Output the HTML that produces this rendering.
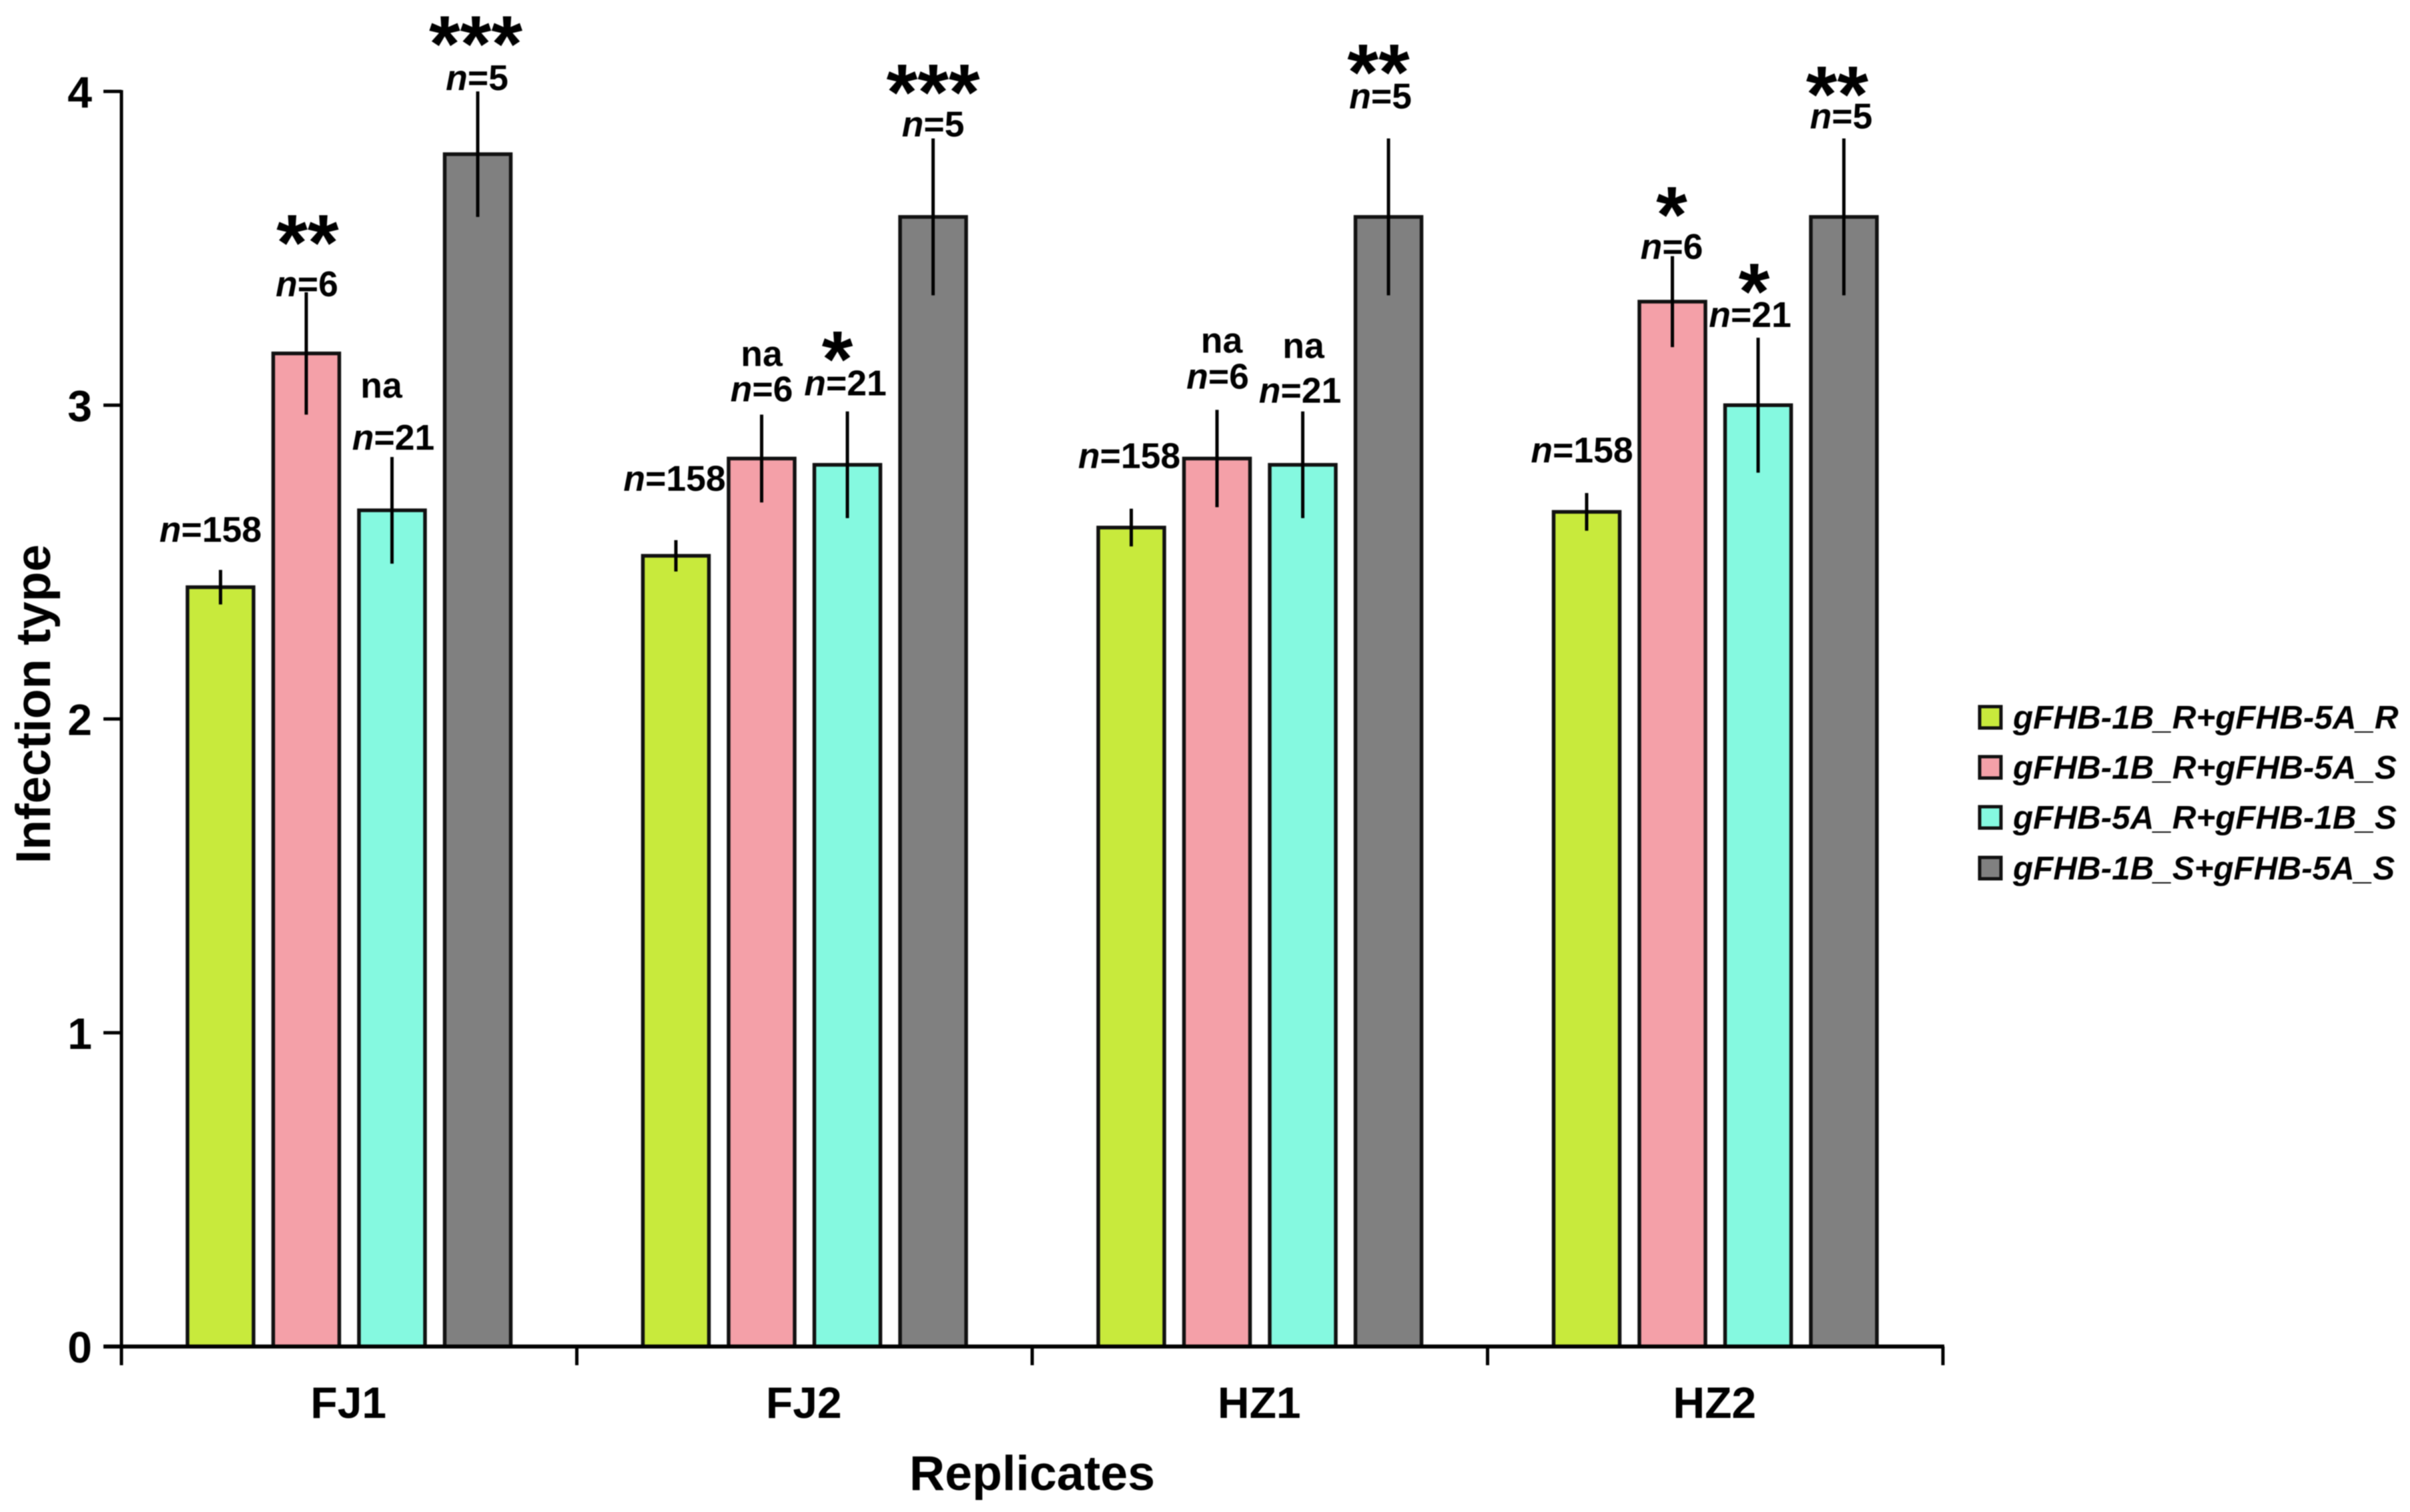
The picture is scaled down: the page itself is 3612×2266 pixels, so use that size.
<!DOCTYPE html>
<html>
<head>
<meta charset="utf-8">
<title>Infection type by replicate</title>
<style>
html,body{margin:0;padding:0;background:#fff;}
svg{display:block;}
text{font-family:"Liberation Sans",sans-serif;font-weight:bold;fill:#000;}
</style>
</head>
<body>
<svg id="chart" xmlns="http://www.w3.org/2000/svg" width="3612" height="2266" viewBox="0 0 3612 2266">
  <rect x="0" y="0" width="3612" height="2266" fill="#fff"/>
  <g id="marks" style="filter:blur(0.9px)"></g>
  <g style="filter:blur(0.9px)">
    <g>
      <rect x="2967" y="1059" width="32" height="32" fill="#C8EA3C" stroke="#111" stroke-width="5"/>
      <text x="3017" y="1092" font-size="49.4" font-style="italic">gFHB-1B_R+gFHB-5A_R</text>
    </g>
    <g>
      <rect x="2967" y="1134" width="32" height="32" fill="#F4A0A8" stroke="#111" stroke-width="5"/>
      <text x="3017" y="1167" font-size="49.4" font-style="italic">gFHB-1B_R+gFHB-5A_S</text>
    </g>
    <g>
      <rect x="2967" y="1209" width="32" height="32" fill="#85F9E0" stroke="#111" stroke-width="5"/>
      <text x="3017" y="1242" font-size="49.4" font-style="italic">gFHB-5A_R+gFHB-1B_S</text>
    </g>
    <g>
      <rect x="2967" y="1285" width="32" height="32" fill="#808080" stroke="#111" stroke-width="5"/>
      <text x="3017" y="1318" font-size="49.4" font-style="italic">gFHB-1B_S+gFHB-5A_S</text>
    </g>
  </g>
  <text transform="translate(75,1055) rotate(-90)" text-anchor="middle" style="font-size:73.6px;filter:blur(0.9px)">Infection type</text>
  <text x="1547" y="2233" text-anchor="middle" style="font-size:73.6px;filter:blur(0.9px)">Replicates</text>
</svg>
<script>
// Chart data
const categories = ["FJ1", "FJ2", "HZ1", "HZ2"];
const seriesNames = ["r-r", "r-s", "5a-r", "s-s"];
const seriesRR = [2.42, 2.52, 2.61, 2.66];
const seriesRS = [3.165, 2.83, 2.83, 3.33];
const series5AR = [2.665, 2.81, 2.81, 3.00];
const seriesSS = [3.80, 3.60, 3.60, 3.60];
const errorRR = [0.055, 0.05, 0.06, 0.06];
const errorRS = [0.195, 0.14, 0.155, 0.145];
const error5AR = [0.17, 0.17, 0.17, 0.215];
const errorSS = [0.20, 0.25, 0.25, 0.25];
const countRR = [158, 158, 158, 158];
const countRS = [6, 6, 6, 6];
const count5AR = [21, 21, 21, 21];
const countSS = [5, 5, 5, 5];
const significanceRR = ["", "", "", ""];
const significanceRS = ["**", "na", "na", "*"];
const significance5AR = ["na", "*", "na", "*"];
const significanceSS = ["***", "***", "**", "**"];
const yTicks = [0, 1, 2, 3, 4];

const SVGNS = "http://www.w3.org/2000/svg";
const marks = document.getElementById("marks");
const plotLeft = 182, plotRight = 2912, y0 = 2018, pxPerUnit = 470.25;
const groupWidth = (plotRight - plotLeft) / categories.length;
const barPitch = 128.5, barWidth = 99;
const seriesValues = [seriesRR, seriesRS, series5AR, seriesSS];
const seriesErrors = [errorRR, errorRS, error5AR, errorSS];
const seriesCounts = [countRR, countRS, count5AR, countSS];
const seriesSig = [significanceRR, significanceRS, significance5AR, significanceSS];
const fills = ["#C8EA3C", "#F4A0A8", "#85F9E0", "#808080"];

function yScale(v) { return y0 - v * pxPerUnit; }
function xBand(g, s) { return plotLeft + groupWidth * g + groupWidth / 2 + (s - 1.5) * barPitch; }
function make(tag, attrs, parent) {
  const el = document.createElementNS(SVGNS, tag);
  for (const k in attrs) el.setAttribute(k, attrs[k]);
  (parent || marks).appendChild(el);
  return el;
}

// Annotation nudges (layout only): label offset from the top of its error bar
const countNudge = [
  [[-15,-42],[1,6],[2,-11],[-1,-2]],
  [[-2,-74],[0,-20],[-3,-24],[0,-3]],
  [[-3,-61],[1,-32],[-4,-13],[-12,-45]],
  [[-7,-46],[-1,4],[-12,-16],[-4,-15]]
];
const sigNudge = [
  [[0,0],[2,-33],[-16,-89],[-3,-30]],
  [[0,0],[0,-73],[-15,-37],[0,-28]],
  [[0,0],[7,-86],[1,-80],[-15,-58]],
  [[0,0],[-1,-21],[-6,-28],[-10,-25]]
];

// Bars
categories.forEach(function (cat, g) {
  seriesValues.forEach(function (vals, s) {
    const cx = xBand(g, s);
    const top = yScale(vals[g]);
    const bar = make("rect", { x: cx - barWidth / 2, y: top, width: barWidth, height: y0 - top, fill: fills[s], stroke: "#111", "stroke-width": 5.5 });
    
    
  });
});

// Axes
const yAxis = make("line", { x1: plotLeft, x2: plotLeft, y1: yScale(4) - 2, y2: y0 + 28, stroke: "#000", "stroke-width": 5 });


const xAxis = make("line", { x1: plotLeft - 27, x2: plotRight + 2, y1: y0, y2: y0, stroke: "#000", "stroke-width": 6 });



yTicks.forEach(function (t) {
  const tick = make("line", { x1: plotLeft - 27, x2: plotLeft, y1: yScale(t), y2: yScale(t), stroke: "#000", "stroke-width": 5 });
  
  
  const label = make("text", { x: 138, y: yScale(t) + 24, "text-anchor": "end", "font-size": 66 });
  label.textContent = t;
  
  
});

for (let i = 1; i <= categories.length; i++) {
  const tx = plotLeft + groupWidth * i;
  const tick = make("line", { x1: tx, x2: tx, y1: y0, y2: y0 + 28, stroke: "#000", "stroke-width": 5 });
  
  
}

categories.forEach(function (cat, g) {
  const label = make("text", { x: plotLeft + groupWidth * g + groupWidth / 2 - 1, y: 2125, "text-anchor": "middle", "font-size": 66 });
  label.textContent = cat;
  
  
});

// Error bars and annotations
categories.forEach(function (cat, g) {
  seriesValues.forEach(function (vals, s) {
    const id = cat.toLowerCase() + '-' + seriesNames[s];
    const cx = xBand(g, s);
    const errTop = yScale(vals[g] + seriesErrors[s][g]);
    const errBottom = yScale(vals[g] - seriesErrors[s][g]);
    const err = make("line", { x1: cx, x2: cx, y1: errTop, y2: errBottom, stroke: "#000", "stroke-width": 5 });
    
    

    const cn = countNudge[g][s];
    const count = make("text", { x: cx + cn[0], y: errTop + cn[1], "text-anchor": "middle", "font-size": 53.5 });
    
    
    const nPart = make("tspan", { "font-style": "italic" }, count);
    nPart.textContent = "n";
    const numPart = make("tspan", {}, count);
    numPart.textContent = "=" + seriesCounts[s][g];

    const sig = seriesSig[s][g];
    if (sig) {
      const sn = sigNudge[g][s];
      const mark = make("text", { x: cx + sn[0], y: errTop + sn[1], "text-anchor": "middle", "font-size": sig === "na" ? 53.5 : 120 });
      mark.textContent = sig;
      
      
    }
  });
});
</script>
</body>
</html>
